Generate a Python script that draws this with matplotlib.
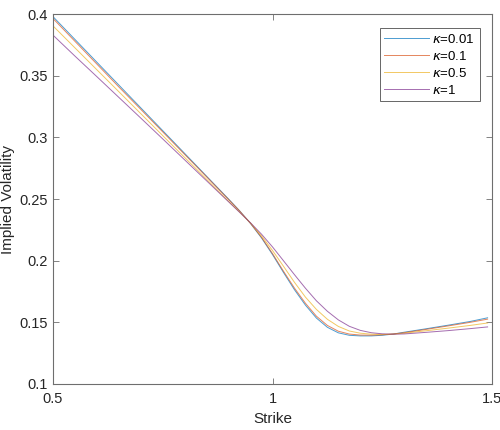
import numpy as np
import matplotlib
matplotlib.use("Agg")
import matplotlib.pyplot as plt

plt.rcParams['font.family'] = ['Liberation Sans', 'DejaVu Sans']
plt.rcParams['mathtext.fontset'] = 'dejavusans'

# strike grid
strike = [0.5, 0.55, 0.6, 0.65, 0.7, 0.75, 0.8, 0.85, 0.9, 0.925, 0.95, 0.975,
          1.0, 1.025, 1.05, 1.075, 1.1, 1.125, 1.15, 1.175, 1.2, 1.225, 1.25,
          1.275, 1.3, 1.35, 1.4, 1.45, 1.49]

# implied vol for each kappa
iv_001 = [0.398, 0.3795, 0.361, 0.3425, 0.324, 0.3055, 0.287, 0.2685, 0.250,
          0.2405, 0.2302, 0.2185, 0.205, 0.1905, 0.1765, 0.164, 0.1535, 0.146,
          0.1415, 0.1395, 0.139, 0.139, 0.1395, 0.1405, 0.142, 0.1448,
          0.1477, 0.1507, 0.1537]
iv_01 = [0.3965, 0.378, 0.3595, 0.341, 0.3228, 0.3045, 0.2862, 0.268, 0.2497,
         0.2404, 0.2303, 0.219, 0.2058, 0.1915, 0.1778, 0.1655, 0.155, 0.1475,
         0.1428, 0.1405, 0.1397, 0.1396, 0.1399, 0.1406, 0.1416, 0.1443,
         0.1471, 0.15, 0.1526]
iv_05 = [0.3905, 0.3727, 0.3549, 0.3371, 0.3193, 0.3015, 0.2837, 0.266, 0.2482,
         0.2395, 0.2305, 0.2202, 0.2083, 0.1955, 0.1825, 0.1705, 0.1605, 0.1525,
         0.1467, 0.143, 0.1412, 0.1404, 0.1402, 0.1404, 0.1412, 0.1432, 0.1453,
         0.1475, 0.1495]
iv_1 = [0.383, 0.366, 0.3493, 0.3325, 0.3157, 0.2988, 0.2818, 0.2648, 0.2478,
        0.2393, 0.2307, 0.2215, 0.2112, 0.200, 0.1887, 0.1777, 0.1675, 0.159,
        0.152, 0.1468, 0.1435, 0.1416, 0.1407, 0.1404, 0.1406, 0.1419, 0.1433,
        0.1449, 0.1463]

labels = [r'$\kappa$=0.01', r'$\kappa$=0.1', r'$\kappa$=0.5', r'$\kappa$=1']
colors = ['#0072BD', '#D95319', '#EDB120', '#7E2F8E']

fig = plt.figure(figsize=(5, 4.3), dpi=100)
ax = fig.add_axes([0.106, 0.107, 0.878, 0.860])

for iv, lab, col in zip([iv_001, iv_01, iv_05, iv_1], labels, colors):
    ax.plot(strike, iv, color=col, lw=0.7, alpha=0.7, label=lab)

ax.set_xlim(0.5, 1.5)
ax.set_ylim(0.1, 0.4)
ax.set_xticks([0.5, 1, 1.5])
ax.set_xticklabels(['0.5', '1', '1.5'])
ax.set_yticks([0.1, 0.15, 0.2, 0.25, 0.3, 0.35, 0.4])
ax.set_yticklabels(['0.1', '0.15', '0.2', '0.25', '0.3', '0.35', '0.4'])

for sp in ax.spines.values():
    sp.set_color('#6e6e6e')
    sp.set_linewidth(0.8)
ax.tick_params(direction='in', length=4, width=0.6, colors='#6e6e6e',
               labelcolor='#262626', labelsize=10.5, top=True, right=True)
ax.tick_params(axis='x', pad=6)

ax.set_xlabel('Strike', fontsize=11, color='#262626', labelpad=4)
ax.set_ylabel('Implied Volatility', fontsize=11, color='#262626', labelpad=3)

leg = ax.legend(loc='upper right', bbox_to_anchor=(0.972, 0.962), fontsize=9.5,
                fancybox=False, framealpha=1, edgecolor='#4d4d4d',
                handlelength=3.4, borderpad=0.35, labelspacing=0.3,
                handletextpad=0.25, borderaxespad=0.0)
leg.get_frame().set_linewidth(0.6)

fig.savefig('out.png', dpi=100)
